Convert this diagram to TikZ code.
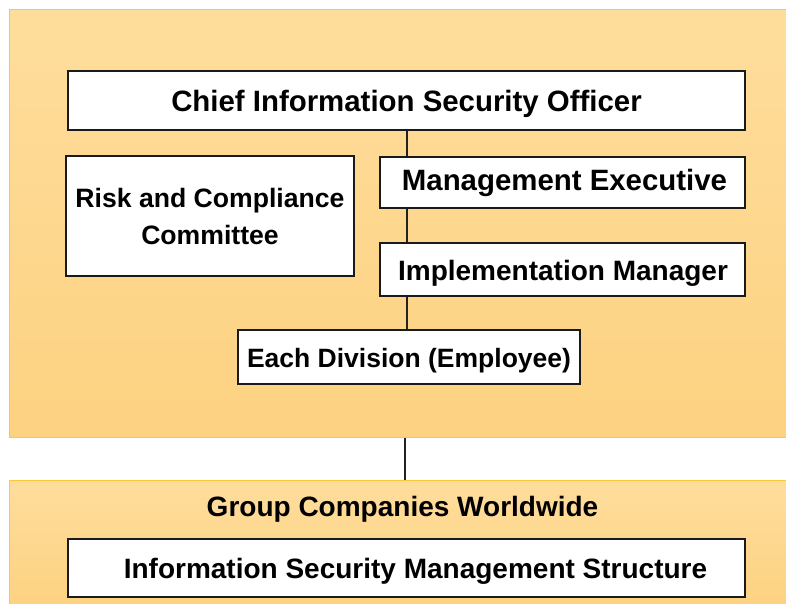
\documentclass[tikz,border=0pt]{standalone}
\usepackage{fontspec}
\setmainfont{Liberation Sans}
\begin{document}
\begin{tikzpicture}[x=1pt,y=1pt,
  panel/.style={draw=panelline, line width=1pt, top color=paneltop, bottom color=panelbot, inner sep=0pt, minimum width=780.5pt},
  box/.style={draw=boxline, line width=2.4pt, fill=white, inner sep=0pt, align=center},
  link/.style={draw=linkc, line width=2pt},
  lbl/.style={inner sep=0pt}]
\definecolor{paneltop}{HTML}{FEDD9C}
\definecolor{panelbot}{HTML}{FDD281}
\definecolor{panelline}{HTML}{F8C93A}
\definecolor{boxline}{HTML}{1A1A1A}
\definecolor{linkc}{HTML}{222222}
\useasboundingbox (0,0) rectangle (786,603);
\fill[white] (0,0) rectangle (786,603);
% panels
\node[panel, minimum height=427.5pt] (toppanel) at (399.75,379.25) {};
\node[panel, minimum height=128pt] (botpanel) at (399.75,59) {};
% boxes
\node[box, minimum width=677pt, minimum height=59pt, text height=23pt, text depth=0pt, font={\bfseries\fontsize{29.4}{34}\selectfont}] (ciso) at (406.5,502.5)
  {Chief Information Security Officer};
\node[box, minimum width=288pt, minimum height=120pt, font={\bfseries\fontsize{26.6}{37}\selectfont}] (risk) at (210,387)
  {Risk and Compliance\\ Committee};
\node[box, minimum width=365pt, minimum height=51pt, text height=16pt, text depth=0pt, font={\bfseries\fontsize{29.4}{34}\selectfont}] (mexec) at (562.5,420.5)
  {\hspace*{4pt}Management Executive};
\node[box, minimum width=365pt, minimum height=53pt, text height=22pt, text depth=0pt, font={\bfseries\fontsize{28}{32}\selectfont}] (impl) at (562.5,333.5)
  {\hspace*{1pt}Implementation Manager};
\node[box, minimum width=342pt, minimum height=54pt, text height=20pt, text depth=0pt, font={\bfseries\fontsize{26.5}{31}\selectfont}] (each) at (409,246)
  {Each Division (Employee)};
\node[lbl, text height=20pt, text depth=0pt, font={\bfseries\fontsize{28}{32}\selectfont}] (group) at (402.5,97)
  {Group Companies Worldwide};
\node[box, minimum width=677pt, minimum height=58pt, text height=21pt, text depth=0pt, font={\bfseries\fontsize{28}{32}\selectfont}] (isms) at (406.5,35)
  {\hspace*{18pt}Information Security Management Structure};
% connectors
\coordinate (spine) at (407,0);
\coordinate (spine2) at (405,0);
\draw[link] (ciso.south -| spine) -- (mexec.north -| spine);
\draw[link] (mexec.south -| spine) -- (impl.north -| spine);
\draw[link] (impl.south -| spine) -- (each.north -| spine);
\draw[link] (toppanel.south -| spine2) -- (botpanel.north -| spine2);
\end{tikzpicture}
\end{document}
